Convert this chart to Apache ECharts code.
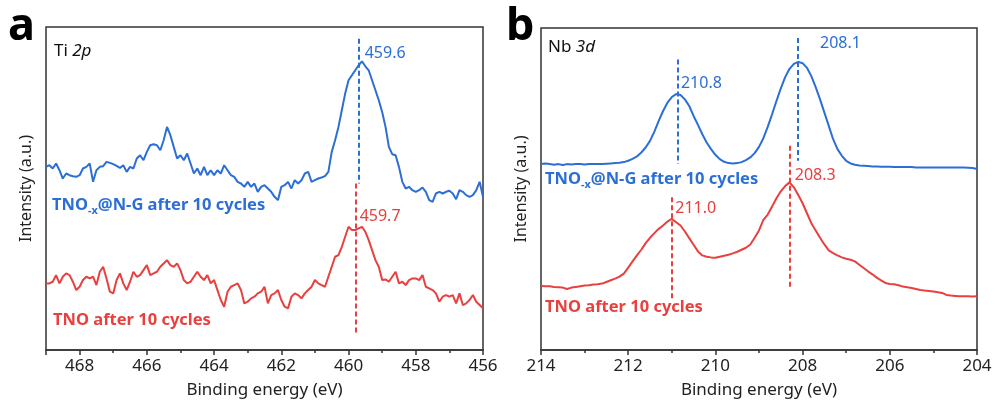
<!DOCTYPE html>
<html>
<head>
<meta charset="utf-8">
<script src="https://cdn.jsdelivr.net/npm/echarts@6/dist/echarts.min.js"></script>
<style>
  html, body { margin: 0; padding: 0; background: #fff; }
  #main { width: 995px; height: 405px; }
</style>
</head>
<body>
<div id="main"></div>
<script>
// Ti 2p: sampled from 469 eV down in 0.1 eV steps
var tiStart = 469, tiStep = -0.1;
var tiBlue = [55.0,55.5,54.5,56.0,54.0,51.5,53.0,52.5,52.2,52.0,52.5,54.5,55.0,56.0,50.5,54.0,55.0,55.2,56.5,56.2,
  55.8,55.3,54.7,55.5,53.5,55.0,54.5,57.5,58.5,57.0,59.5,61.5,61.8,61.5,60.0,63.0,67.0,64.5,61.0,57.5,
  58.5,57.0,59.0,56.0,53.0,54.5,52.5,55.0,52.5,54.0,52.5,54.0,53.0,55.5,54.0,52.5,52.0,50.5,50.0,49.0,
  50.5,49.0,50.0,47.5,49.0,49.5,48.5,47.5,46.0,45.0,49.0,49.5,50.5,48.5,51.0,50.0,51.0,53.0,53.5,50.5,
  51.0,51.5,51.8,52.2,53.5,59.5,63.0,67.0,72.0,77.0,81.0,82.5,84.0,85.5,86.7,85.2,84.0,81.0,78.0,75.0,
  71.5,67.0,61.0,58.8,58.5,55.0,50.5,48.5,49.0,48.0,47.5,48.0,48.8,47.5,45.0,44.5,47.0,47.5,47.0,47.5,
  47.8,47.0,45.3,48.0,47.5,46.5,46.0,46.5,48.0,50.5,46.0];
var tiRed = [20.0,20.0,20.5,22.5,20.0,22.0,23.0,22.5,20.5,18.0,19.0,21.0,22.0,21.5,22.0,19.5,23.5,25.0,21.5,17.5,
  17.0,21.0,23.0,20.0,18.0,20.5,23.5,22.0,22.5,24.0,25.5,22.5,23.0,23.5,25.0,26.0,27.0,25.5,25.0,26.0,
  24.0,21.0,20.0,20.5,22.0,23.5,22.0,21.0,22.5,20.0,21.0,18.0,15.0,13.0,17.5,19.0,19.5,20.0,18.0,14.0,
  14.5,15.5,16.0,17.0,17.5,19.0,14.0,16.5,17.0,18.0,15.0,13.0,12.5,16.0,17.0,16.5,15.5,17.0,18.0,19.0,
  21.0,20.0,19.5,19.0,22.0,25.0,28.0,28.5,31.0,34.0,37.0,36.0,36.0,36.5,37.0,35.5,33.0,30.0,27.0,25.0,
  21.0,21.2,20.5,22.0,23.5,20.0,20.5,19.5,21.0,21.5,21.5,21.0,22.5,19.0,18.5,18.0,17.0,14.5,16.0,16.5,
  16.0,16.5,14.0,17.0,13.5,14.0,15.0,16.5,14.5,13.5,12.5];

// Nb 3d: sampled from 214 eV down in 0.1 eV steps
var nbStart = 214, nbStep = -0.1;
var nbBlue = [56.0,56.2,56.0,55.8,56.0,55.7,56.0,55.9,56.0,56.0,55.9,56.0,56.0,56.0,56.0,56.1,56.2,56.3,56.4,56.6,
  57.0,57.6,58.3,59.5,61.0,63.0,65.8,69.0,72.0,74.5,76.2,77.1,76.8,75.5,73.5,70.5,67.8,65.0,62.5,60.5,
  58.8,57.5,56.7,56.3,56.2,56.3,56.6,57.2,58.0,59.3,61.2,63.8,67.2,71.0,75.0,78.8,82.2,84.7,86.2,86.8,
  86.4,85.0,82.5,79.2,75.5,71.5,67.5,63.5,60.5,58.5,57.0,56.2,55.8,55.6,55.5,55.4,55.3,55.3,55.2,55.2,
  55.2,55.1,55.1,55.1,55.1,55.1,55.0,55.0,55.0,55.0,55.0,55.0,55.0,55.0,55.0,55.0,55.0,55.0,54.9,54.8,54.5];
var nbRed = [19.3,19.2,19.2,19.0,18.9,18.8,18.4,18.8,19.0,19.2,19.4,19.5,19.7,19.8,20.0,20.5,21.0,21.5,22.1,23.0,
  24.8,26.7,28.5,30.2,32.2,33.8,35.2,36.5,37.5,38.7,39.5,38.5,37.5,35.7,33.7,31.7,29.7,28.5,28.1,27.9,
  27.8,28.1,28.4,28.7,29.1,29.6,30.2,30.8,31.8,33.8,36.0,39.2,40.8,43.2,45.7,47.8,49.4,50.5,49.0,46.7,
  44.2,41.2,38.2,36.0,33.8,31.8,30.0,29.2,28.5,27.9,27.5,27.2,26.7,25.7,24.7,23.7,22.8,21.8,21.0,20.2,
  19.9,19.8,19.5,19.1,18.9,18.7,18.4,18.1,17.9,17.8,17.6,17.4,17.2,16.6,16.4,16.3,16.2,16.2,16.2,16.1,16.2];

// peak markers: [energy, top, bottom] and labels: [text, energy, height]
var tiBlueMarks = [[459.7, 93.5, 50]];
var tiRedMarks = [[459.8, 50, 5]];
var tiBlueLabels = [['459.6', 459.52, 89]];
var tiRedLabels = [['459.7', 459.67, 40]];
var nbBlueMarks = [[210.87, 87.5, 56], [208.1, 94, 57]];
var nbRedMarks = [[211.0, 46, 15], [208.3, 61.5, 18.5]];
var nbBlueLabels = [['210.8', 210.79, 80.2], ['208.1', 207.6, 92.2]];
var nbRedLabels = [['211.0', 210.92, 42.5], ['208.3', 208.18, 52.5]];

var BLUE = '#2b6fd6', RED = '#e8403f';
var FONT = 'Noto Sans';

function pairs(start, step, vals) {
  return vals.map(function (v, i) { return [+(start + step * i).toFixed(2), v]; });
}
function markLines(marks) {
  return marks.map(function (m) { return [{ coord: [m[0], m[1]] }, { coord: [m[0], m[2]] }]; });
}
function markLabels(labels) {
  return labels.map(function (l) { return { name: l[0], coord: [l[1], l[2]] }; });
}
function spectrum(idx, color, vals, start, step, marks, labels) {
  return {
    type: 'line', xAxisIndex: idx, yAxisIndex: idx,
    data: pairs(start, step, vals),
    showSymbol: false, symbol: 'none',
    lineStyle: { color: color, width: 2 },
    itemStyle: { color: color },
    markLine: {
      silent: true, symbol: ['none', 'none'],
      label: { show: false },
      lineStyle: { color: color, width: 2, type: [5, 3] },
      data: markLines(marks)
    },
    markPoint: {
      silent: true, symbol: 'circle', symbolSize: 0,
      label: { show: true, position: 'right', distance: 0, formatter: '{b}',
        color: color, fontFamily: FONT, fontSize: 16 },
      data: markLabels(labels)
    }
  };
}
function xAxisOf(idx, min, max, showMax) {
  return {
    type: 'value', gridIndex: idx, inverse: true, min: min, max: max, interval: 2,
    name: 'Binding energy (eV)', nameLocation: 'middle', nameGap: 32,
    nameTextStyle: { color: '#222', fontFamily: FONT, fontSize: 17 },
    axisLine: { show: true, lineStyle: { color: '#333', width: 1.5 } },
    axisTick: { show: true, inside: false, length: 5, lineStyle: { color: '#333', width: 1.5 } },
    minorTick: { show: true, splitNumber: 2, length: 3, lineStyle: { color: '#333', width: 1.5 } },
    axisLabel: { color: '#222', fontFamily: FONT, fontSize: 17, margin: 8, showMaxLabel: showMax, showMinLabel: true },
    splitLine: { show: false }
  };
}
function yAxisOf(idx) {
  return {
    type: 'value', gridIndex: idx, min: 0, max: 97,
    name: 'Intensity (a.u.)', nameLocation: 'middle', nameGap: 12, nameRotate: 90,
    nameTextStyle: { color: '#222', fontFamily: FONT, fontSize: 16 },
    axisLine: { show: false }, axisTick: { show: false }, axisLabel: { show: false },
    splitLine: { show: false }
  };
}
function sampleName(x, y, color, withSub) {
  var rich = {
    m: { fontFamily: FONT, fontSize: 16.5, fontWeight: 'bold', fill: color },
    s: { fontFamily: FONT, fontSize: 11, fontWeight: 'bold', fill: color, padding: [10, 0, 0, 0] }
  };
  return {
    type: 'text', left: x, top: y,
    style: { text: withSub ? '{m|TNO}{s|-x}{m|@N-G after 10 cycles}' : '{m|TNO after 10 cycles}', rich: rich }
  };
}
function coreName(x, y, el, orb) {
  return {
    type: 'text', left: x, top: y,
    style: {
      text: '{r|' + el + ' }{i|' + orb + '}',
      rich: {
        r: { fontFamily: FONT, fontSize: 17, fill: '#111' },
        i: { fontFamily: FONT, fontSize: 17, fontStyle: 'italic', fill: '#111' }
      }
    }
  };
}

var chart = echarts.init(document.getElementById('main'));
chart.setOption({
  animation: false,
  backgroundColor: '#fff',
  grid: [
    { left: 46, top: 27, width: 437, height: 323, show: true, borderColor: '#333', borderWidth: 1.5 },
    { left: 541, top: 28, width: 436, height: 322, show: true, borderColor: '#333', borderWidth: 1.5 }
  ],
  xAxis: [xAxisOf(0, 456, 469, false), xAxisOf(1, 204, 214, true)],
  yAxis: [yAxisOf(0), yAxisOf(1)],
  series: [
    spectrum(0, BLUE, tiBlue, tiStart, tiStep, tiBlueMarks, tiBlueLabels),
    spectrum(0, RED, tiRed, tiStart, tiStep, tiRedMarks, tiRedLabels),
    spectrum(1, BLUE, nbBlue, nbStart, nbStep, nbBlueMarks, nbBlueLabels),
    spectrum(1, RED, nbRed, nbStart, nbStep, nbRedMarks, nbRedLabels)
  ],
  graphic: [
    { type: 'text', left: 8, top: 5, style: { text: 'a', fontFamily: FONT, fontSize: 45, fontWeight: 'bold', fill: '#000' } },
    { type: 'text', left: 506, top: 5, style: { text: 'b', fontFamily: FONT, fontSize: 45, fontWeight: 'bold', fill: '#000' } },
    coreName(54, 43, 'Ti', '2p'),
    coreName(548, 39, 'Nb', '3d'),
    sampleName(52, 197, BLUE, true),
    sampleName(53, 312, RED, false),
    sampleName(545, 171, BLUE, true),
    sampleName(545, 299, RED, false)
  ]
});
</script>
</body>
</html>
